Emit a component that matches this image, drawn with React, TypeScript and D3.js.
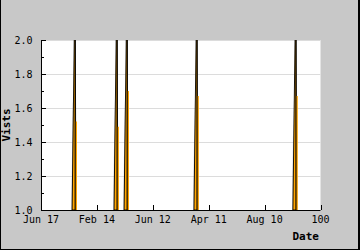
import React from "react";
import * as d3 from "d3";

const xTickValues = [0, 20, 40, 60, 80, 100];
const xTickLabels = ["Jun 17", "Feb 14", "Jun 12", "Apr 11", "Aug 10", "100"];
const yTickValues = [1.0, 1.2, 1.4, 1.6, 1.8, 2.0];
const yMinorValues = [1.1, 1.3, 1.5, 1.7, 1.9];

// spikes: position on the x axis, peak visits (clipped), secondary series
const spikeX = [12.2, 27.2, 30.8, 55.8, 91.2];
const spikePeak = [2.4, 2.4, 2.4, 2.4, 2.4];
const graySeries = [1.65, 1.65, 1.65, 1.65, 1.65];
const orangeSeries = [1.52, 1.49, 1.7, 1.67, 1.67];

const W = 360;
const H = 250;
const M = { left: 41, right: 320.5, top: 40, bottom: 210 };
const FONT = "'DejaVu Sans Mono', monospace";

export default function App() {
  const x = d3.scaleLinear().domain([0, 100]).range([M.left, M.right]);
  const y = d3.scaleLinear().domain([1, 2]).range([M.bottom, M.top]);
  const u = x.invert(M.left + 1); // one pixel in data units

  const area = d3
    .area<[number, number]>()
    .x((d) => x(d[0]))
    .y0(y(1))
    .y1((d) => y(d[1]))
    .curve(d3.curveLinear);
  const line = d3
    .line<[number, number]>()
    .x((d) => x(d[0]))
    .y((d) => y(d[1]));

  return (
    <svg width={W} height={H} style={{ position: "absolute", left: 0, top: 0 }}>
      <defs>
        <clipPath id="plot">
          <rect x={M.left} y={M.top} width={M.right - M.left} height={M.bottom - M.top} />
        </clipPath>
      </defs>
      <rect x={0} y={0} width={W} height={H} fill="#c8c8c8" />
      <line x1={0.5} y1={0} x2={0.5} y2={H} stroke="#000" />
      <line x1={0} y1={H - 0.5} x2={W} y2={H - 0.5} stroke="#000" />
      <line x1={W - 1} y1={0} x2={W - 1} y2={H} stroke="#000" strokeWidth={2} />
      <rect x={M.left} y={M.top} width={M.right - M.left} height={M.bottom - M.top} fill="#fff" />
      {yTickValues.slice(1).map((v) => (
        <line key={"g" + v} x1={M.left} x2={M.right} y1={Math.round(y(v)) + 0.5} y2={Math.round(y(v)) + 0.5} stroke="#dcdcdc" />
      ))}
      <g clipPath="url(#plot)">
        {spikeX.map((sx, i) => (
          <g key={"s" + i}>
            <path
              d={area([[sx - 3.6 * u, 1], [sx - 2.6 * u, graySeries[i]], [sx - 1.6 * u, 1]]) || ""}
              fill="rgba(110,110,110,0.5)"
            />
            <path
              d={area([[sx - 3 * u, 1], [sx, spikePeak[i]], [sx + 0.8 * u, 1]]) || ""}
              fill="#ffa500"
              stroke="#000"
              strokeWidth={0.9}
            />
            <path
              d={area([[sx + 0.4 * u, 1], [sx + 0.4 * u, orangeSeries[i]], [sx + 1.9 * u, orangeSeries[i]], [sx + 1.9 * u, 1]]) || ""}
              fill="#ffa500"
            />
            <path d={line([[sx, 1], [sx, spikePeak[i]]]) || ""} stroke="#000" strokeWidth={1} fill="none" />
          </g>
        ))}
      </g>
      {/* axes */}
      <line x1={M.left + 0.5} x2={M.left + 0.5} y1={M.top} y2={M.bottom} stroke="#000" />
      <line x1={M.left} x2={M.right} y1={M.bottom + 0.5} y2={M.bottom + 0.5} stroke="#000" />
      {yTickValues.map((v) => (
        <g key={"yt" + v}>
          <line x1={M.left} x2={M.left + 5} y1={Math.round(y(v)) + 0.5} y2={Math.round(y(v)) + 0.5} stroke="#000" />
          <text x={32.5} y={y(v) + 3.5} textAnchor="end" fontFamily={FONT} fontSize={10} fill="#000">
            {d3.format(".1f")(v)}
          </text>
        </g>
      ))}
      {yMinorValues.map((v) => (
        <line key={"ym" + v} x1={M.left} x2={M.left + 3} y1={Math.round(y(v)) + 0.5} y2={Math.round(y(v)) + 0.5} stroke="#000" />
      ))}
      {xTickValues.map((v, i) => (
        <g key={"xt" + v}>
          <line x1={Math.round(x(v)) + 0.5} x2={Math.round(x(v)) + 0.5} y1={M.bottom - 5} y2={M.bottom} stroke="#000" />
          <text x={x(v)} y={223} textAnchor="middle" fontFamily={FONT} fontSize={10} fill="#000">
            {xTickLabels[i]}
          </text>
        </g>
      ))}
      <text x={319} y={239.5} textAnchor="end" fontFamily={FONT} fontSize={11} fontWeight="bold" fill="#000">
        Date
      </text>
      <text
        transform={`translate(9.5,${(M.top + M.bottom) / 2}) rotate(-90)`}
        textAnchor="middle"
        fontFamily={FONT}
        fontSize={11}
        fontWeight="bold"
        fill="#000"
      >
        Vists
      </text>
    </svg>
  );
}
